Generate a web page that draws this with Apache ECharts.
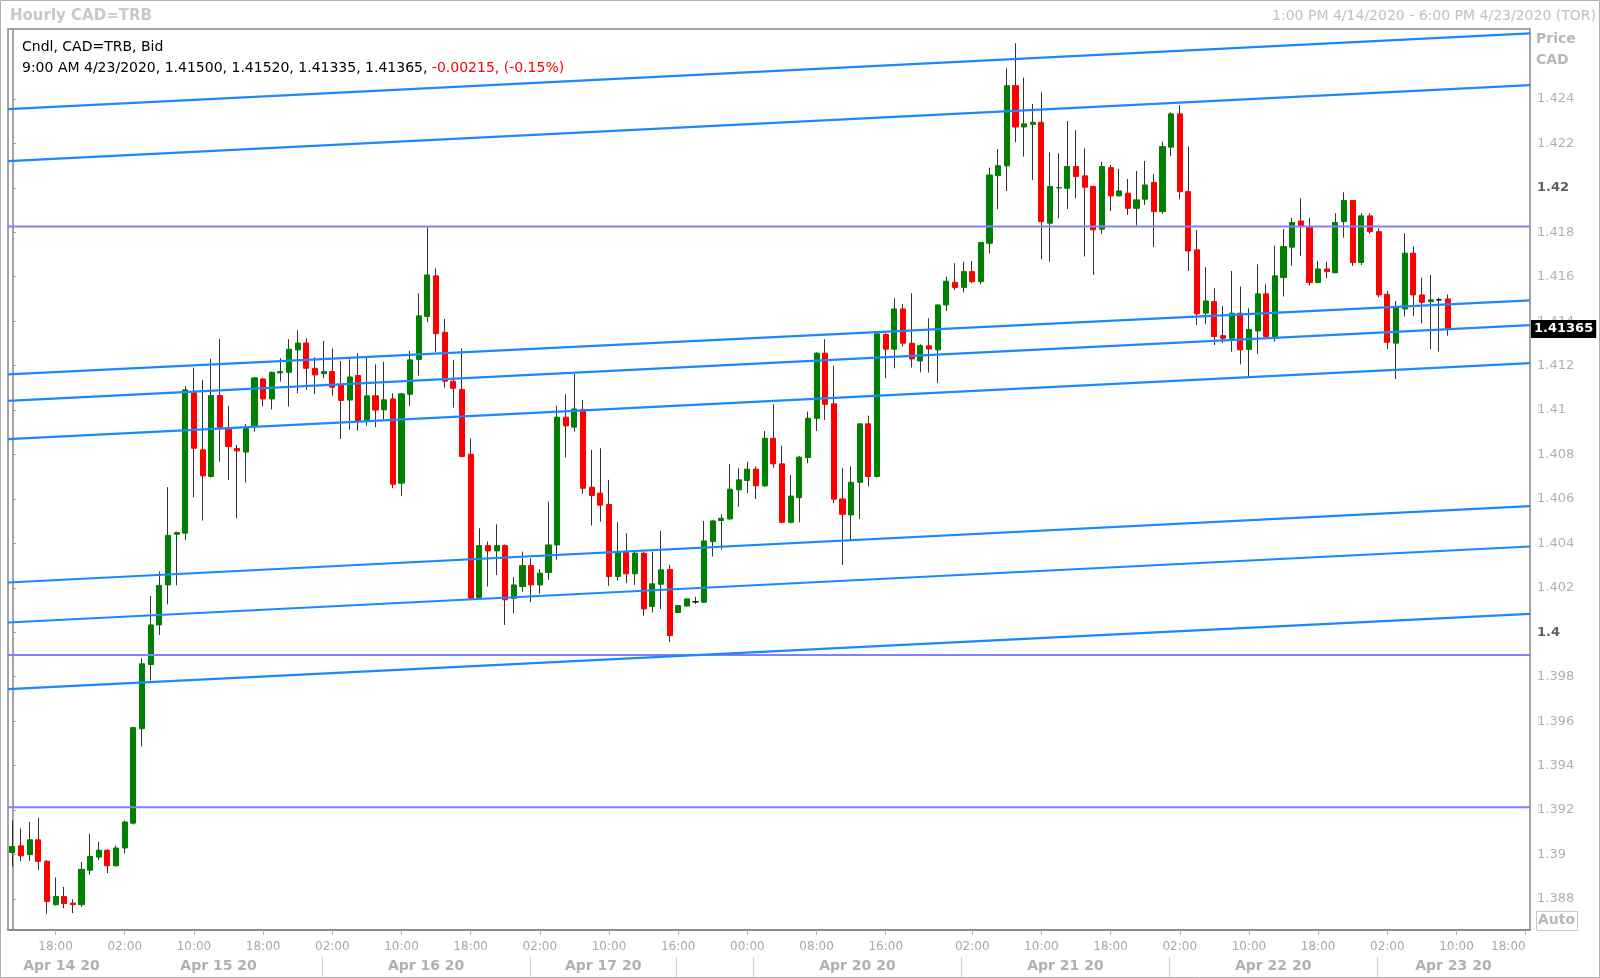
<!DOCTYPE html>
<html><head><meta charset="utf-8">
<script src="https://cdn.jsdelivr.net/npm/echarts@6/dist/echarts.min.js"></script>
<style>html,body{margin:0;padding:0;background:#fff}#c{width:1600px;height:978px}</style>
</head><body><div id="c"></div>
<script>
// ---- data ----
const open = [1.39009,1.39039,1.38999,1.39066,1.38969,1.38774,1.38811,1.38781,1.38774,1.38929,
1.38988,1.39019,1.38949,1.39029,1.39141,1.39566,1.39855,1.40033,1.40213,1.40441,
1.40446,1.41078,1.40821,1.40701,1.41065,1.40915,1.40827,1.40811,1.40929,1.41140,
1.41050,1.41167,1.41170,1.41271,1.41302,1.41188,1.41164,1.41173,1.41113,1.41045,
1.41156,1.40956,1.41064,1.41001,1.41050,1.40671,1.41071,1.41228,1.41421,1.41604,
1.41350,1.41130,1.41093,1.40801,1.40156,1.40390,1.40366,1.40390,1.40153,1.40206,
1.40300,1.40213,1.40269,1.40393,1.40968,1.40923,1.41003,1.40653,1.40626,1.40575,
1.40251,1.40359,1.40263,1.40356,1.40116,1.40216,1.40283,1.40089,1.40118,1.40137,
1.40135,1.40408,1.40503,1.40510,1.40641,1.40683,1.40734,1.40659,1.40873,1.40758,
1.40495,1.40606,1.40786,1.40963,1.41256,1.41028,1.40600,1.40528,1.40675,1.40938,
1.40701,1.41341,1.41274,1.41455,1.41301,1.41221,1.41289,1.41271,1.41473,1.41575,
1.41552,1.41623,1.41578,1.41751,1.42055,1.42099,1.42460,1.42274,1.42286,1.42295,
1.41841,1.42000,1.41998,1.42096,1.42054,1.42006,1.41814,1.42091,1.41964,1.41976,
1.41908,1.41949,1.42024,1.41893,1.42183,1.42333,1.41983,1.41721,1.41436,1.41488,
1.41335,1.41323,1.41436,1.41273,1.41356,1.41523,1.41331,1.41596,1.41733,1.41851,
1.41823,1.41574,1.41635,1.41618,1.41848,1.41943,1.41664,1.41874,1.41803,1.41521,
1.41301,1.41455,1.41706,1.41518,1.41488,1.41496,1.41500];
const close = [1.39036,1.38994,1.39066,1.38969,1.38788,1.38811,1.38779,1.38774,1.38933,1.38991,
1.39019,1.38949,1.39029,1.39146,1.39571,1.39858,1.40033,1.40211,1.40436,1.40449,
1.41091,1.40828,1.40704,1.41065,1.40921,1.40836,1.40816,1.40917,1.41145,1.41050,
1.41170,1.41173,1.41274,1.41302,1.41188,1.41158,1.41173,1.41103,1.41043,1.41149,
1.40951,1.41064,1.41000,1.41046,1.40666,1.41073,1.41226,1.41424,1.41608,1.41344,
1.41130,1.41098,1.40791,1.40153,1.40390,1.40366,1.40390,1.40146,1.40213,1.40300,
1.40213,1.40266,1.40393,1.40968,1.40929,1.41005,1.40648,1.40615,1.40572,1.40251,
1.40359,1.40263,1.40356,1.40105,1.40218,1.40281,1.39985,1.40120,1.40150,1.40137,
1.40411,1.40501,1.40513,1.40644,1.40686,1.40734,1.40659,1.40873,1.40758,1.40495,
1.40613,1.40788,1.40963,1.41256,1.41026,1.40599,1.40531,1.40675,1.40938,1.40701,
1.41343,1.41274,1.41455,1.41301,1.41230,1.41290,1.41275,1.41473,1.41580,1.41552,
1.41623,1.41578,1.41754,1.42058,1.42100,1.42460,1.42274,1.42288,1.42295,1.41848,
1.42006,1.42001,1.42096,1.42051,1.42003,1.41811,1.42096,1.41964,1.41986,1.41908,
1.41946,1.42013,1.41893,1.42186,1.42333,1.41983,1.41716,1.41433,1.41491,1.41331,
1.41323,1.41436,1.41271,1.41363,1.41523,1.41331,1.41604,1.41736,1.41844,1.41830,
1.41574,1.41635,1.41623,1.41844,1.41943,1.41664,1.41874,1.41803,1.41518,1.41305,
1.41461,1.41706,1.41518,1.41485,1.41496,1.41496,1.41365];
const high = [1.39153,1.39116,1.39146,1.39166,1.38975,1.38896,1.38854,1.38799,1.38966,1.39094,
1.39058,1.39022,1.39041,1.39153,1.39574,1.39883,1.40163,1.40274,1.40653,1.40453,
1.41108,1.41191,1.41136,1.41230,1.41320,1.41019,1.40843,1.40938,1.41148,1.41145,
1.41173,1.41233,1.41319,1.41359,1.41323,1.41238,1.41311,1.41277,1.41221,1.41229,
1.41256,1.41238,1.41206,1.41218,1.41076,1.41078,1.41266,1.41526,1.41823,1.41638,
1.41410,1.41226,1.41278,1.40873,1.40468,1.40408,1.40486,1.40395,1.40248,1.40363,
1.40333,1.40284,1.40588,1.41020,1.41071,1.41163,1.41046,1.40821,1.40828,1.40686,
1.40495,1.40446,1.40363,1.40363,1.40363,1.40456,1.40303,1.40122,1.40152,1.40160,
1.40501,1.40505,1.40531,1.40758,1.40738,1.40768,1.40746,1.40906,1.41026,1.40840,
1.40708,1.40794,1.40993,1.41260,1.41319,1.41200,1.40738,1.40746,1.40940,1.40975,
1.41346,1.41345,1.41503,1.41478,1.41526,1.41296,1.41413,1.41476,1.41600,1.41661,
1.41668,1.41671,1.41756,1.42091,1.42175,1.42538,1.42651,1.42496,1.42378,1.42430,
1.42160,1.42156,1.42301,1.42259,1.42178,1.42010,1.42118,1.42103,1.42085,1.42040,
1.42076,1.42121,1.42063,1.42208,1.42340,1.42373,1.42186,1.41811,1.41643,1.41548,
1.41469,1.41626,1.41556,1.41458,1.41656,1.41566,1.41740,1.41815,1.41866,1.41953,
1.41866,1.41671,1.41668,1.41886,1.41980,1.41946,1.41886,1.41886,1.41818,1.41536,
1.41491,1.41796,1.41736,1.41596,1.41608,1.41506,1.41520];
const low = [1.38946,1.38971,1.38971,1.38929,1.38733,1.38770,1.38758,1.38736,1.38763,1.38908,
1.38974,1.38916,1.38946,1.39004,1.39135,1.39486,1.39783,1.39988,1.40126,1.40211,
1.40416,1.40608,1.40503,1.40696,1.40768,1.40686,1.40513,1.40674,1.40903,1.41016,
1.41003,1.41128,1.41016,1.41076,1.41091,1.41073,1.41143,1.41065,1.40870,1.40913,
1.40907,1.40930,1.40923,1.40956,1.40648,1.40614,1.41019,1.41155,1.41395,1.41263,
1.41101,1.41011,1.40788,1.40150,1.40150,1.40206,1.40258,1.40033,1.40086,1.40183,
1.40135,1.40173,1.40236,1.40326,1.40787,1.40903,1.40623,1.40480,1.40498,1.40209,
1.40233,1.40221,1.40213,1.40075,1.40089,1.40105,1.39955,1.40087,1.40116,1.40128,
1.40132,1.40341,1.40373,1.40506,1.40565,1.40626,1.40599,1.40655,1.40741,1.40491,
1.40490,1.40495,1.40761,1.40906,1.40956,1.40581,1.40303,1.40416,1.40509,1.40656,
1.40696,1.41143,1.41188,1.41286,1.41191,1.41170,1.41169,1.41121,1.41446,1.41540,
1.41530,1.41571,1.41566,1.41706,1.41905,1.41986,1.42205,1.42141,1.42036,1.41679,
1.41668,1.41863,1.41905,1.41953,1.41691,1.41608,1.41793,1.41896,1.41960,1.41878,
1.41830,1.41923,1.41733,1.41883,1.42144,1.41949,1.41626,1.41383,1.41388,1.41293,
1.41301,1.41263,1.41206,1.41146,1.41253,1.41323,1.41308,1.41511,1.41650,1.41695,
1.41560,1.41571,1.41593,1.41616,1.41776,1.41649,1.41653,1.41793,1.41508,1.41275,
1.41139,1.41421,1.41423,1.41391,1.41274,1.41263,1.41335];

// trading sessions (hourly bars) that make up the category axis
const sessions = [[Date.UTC(2020,3,14,13), Date.UTC(2020,3,17,17)], [Date.UTC(2020,3,19,16), Date.UTC(2020,3,23,18)]];
const hourTicks = ['04/14 18:00','04/15 02:00','04/15 10:00','04/15 18:00','04/16 02:00','04/16 10:00','04/16 18:00',
  '04/17 02:00','04/17 10:00','04/19 16:00','04/20 00:00','04/20 08:00','04/20 16:00','04/21 02:00','04/21 10:00',
  '04/21 18:00','04/22 02:00','04/22 10:00','04/22 18:00','04/23 02:00','04/23 10:00','04/23 18:00'];
const dayLabels = ['Apr 14 20','Apr 15 20','Apr 16 20','Apr 17 20','Apr 20 20','Apr 21 20','Apr 22 20','Apr 23 20'];
const yTicks = [1.388,1.390,1.392,1.394,1.396,1.398,1.400,1.402,1.404,1.406,1.408,1.410,1.412,1.414,1.416,1.418,1.420,1.422,1.424];
const yMajor = [1.400, 1.420];
const prevClose = 1.41580;
// drawn studies: sloped trend lines (value at left edge, value at right edge) and horizontal levels
const trendLeft  = [1.42354,1.42120,1.41161,1.41041,1.40869,1.40224,1.40044,1.39744];
const trendRight = [1.42695,1.42462,1.41494,1.41382,1.41211,1.40568,1.40386,1.40083];
const hLevels = [1.41826,1.39898,1.39213];

// ---- layout constants ----
const dayRanges = [[-0.5,11.85],[11.85,35.85],[35.85,59.85],[59.85,76.8],[85.7,109.75],[109.75,133.8],[133.8,157.8],[157.8,175.5]];
const daySeparators = [35.85,59.85,76.8,85.7,109.75,133.8,157.8];

const pad = n => (n < 10 ? '0' : '') + n;
const categories = [];
sessions.forEach(([a, b]) => {
  for (let t = a; t <= b; t += 3600000) {
    const d = new Date(t);
    categories.push(pad(d.getUTCMonth() + 1) + '/' + pad(d.getUTCDate()) + ' ' + pad(d.getUTCHours()) + ':00');
  }
});
const xMin = -0.5, xMax = categories.length - 0.5;
const dayCenters = dayRanges.map(r => (r[0] + r[1]) / 2);
const dayMap = {};
dayCenters.forEach((c, i) => { dayMap[c.toFixed(3)] = dayLabels[i]; });
const tickSet = new Set(hourTicks);
const last = close.length - 1;

const wickData = open.map((o, i) => [o, close[i], low[i], high[i]]);
const bodyData = open.map((o, i) => [o, close[i], Math.min(o, close[i]), Math.max(o, close[i])]);

const series = [
  { type: 'candlestick', xAxisIndex: 0, yAxisIndex: 0, data: wickData, barWidth: 1, z: 2,
    itemStyle: { color: '#333', color0: '#333', borderColor: '#333', borderColor0: '#333', borderColorDoji: '#333', borderWidth: 1 } },
  { type: 'candlestick', xAxisIndex: 0, yAxisIndex: 0, data: bodyData, barWidth: 5.6, z: 3,
    itemStyle: { color: '#008000', color0: '#ff0000', borderColor: '#008000', borderColor0: '#ff0000', borderColorDoji: '#000', borderWidth: 1 } }
];
hLevels.forEach(v => series.push({ type: 'line', xAxisIndex: 1, yAxisIndex: 0, data: [[xMin, v], [xMax, v]],
  symbol: 'none', z: 4, silent: true, lineStyle: { color: '#8080ff', width: 2 } }));
trendLeft.forEach((v, i) => series.push({ type: 'line', xAxisIndex: 1, yAxisIndex: 0, data: [[xMin, v], [xMax, trendRight[i]]],
  symbol: 'none', z: 5, silent: true, lineStyle: { color: '#1a88ff', width: 2.2 } }));
// last price tag on the price scale
series.push({ type: 'line', xAxisIndex: 1, yAxisIndex: 0, data: [[xMax, close[last]]], symbol: 'none', z: 20, silent: true,
  lineStyle: { width: 0 },
  markLine: { silent: true, symbol: ['none', 'none'], animation: false, precision: 5,
    lineStyle: { color: 'rgba(0,0,0,0)', width: 0 },
    label: { show: true, position: 'end', distance: 1, formatter: close[last].toFixed(5),
      backgroundColor: '#000', color: '#fff', fontWeight: 'bold', fontSize: 13, fontFamily: 'DejaVu Sans', padding: [3, 3, 2, 3] },
    data: [{ yAxis: close[last] }] } });

const chart = echarts.init(document.getElementById('c'), null, { renderer: 'canvas' });
chart.setOption({
  animation: false,
  backgroundColor: '#fff',
  textStyle: { fontFamily: 'DejaVu Sans' },
  grid: { left: 8, right: 70, top: 29, bottom: 48, show: true, borderColor: '#858585', borderWidth: 1.5, backgroundColor: '#fff' },
  xAxis: [
    { type: 'category', data: categories, boundaryGap: true, position: 'bottom',
      axisLine: { show: true, lineStyle: { color: '#858585', width: 1.5 } },
      axisTick: { show: true, alignWithLabel: true, length: 5, interval: (i, v) => tickSet.has(v), lineStyle: { color: '#b0b0b0' } },
      axisLabel: { interval: (i, v) => tickSet.has(v), formatter: v => v.slice(6), color: '#a8a8a8', fontSize: 12,
        fontFamily: 'DejaVu Sans', margin: 11, alignMaxLabel: 'right', hideOverlap: false },
      splitLine: { show: false } },
    { type: 'value', min: xMin, max: xMax, position: 'bottom', offset: 27,
      axisLine: { show: false },
      axisTick: { show: true, customValues: daySeparators, length: 20, lineStyle: { color: '#d0d0d0' } },
      axisLabel: { customValues: dayCenters, formatter: v => dayMap[v.toFixed(3)] || '', color: '#b0b0b0', fontSize: 14,
        fontWeight: 'bold', fontFamily: 'DejaVu Sans', margin: 2 },
      splitLine: { show: false } }
  ],
  yAxis: [{ type: 'value', position: 'right', min: 1.3866, max: 1.42715, scale: true,
    axisLine: { show: true, lineStyle: { color: '#858585', width: 1.5 } },
    axisTick: { show: true, customValues: yTicks, length: 4, lineStyle: { color: '#a0a0a0' } },
    axisLabel: { customValues: yTicks, margin: 7, fontSize: 13, fontFamily: 'DejaVu Sans', color: '#b0b0b0',
      formatter: v => { const s = String(Number(v.toFixed(3))); return yMajor.some(m => Math.abs(m - v) < 1e-7) ? '{b|' + s + '}' : s; },
      rich: { b: { fontWeight: 'bold', color: '#606060', fontSize: 13, fontFamily: 'DejaVu Sans' } } },
    splitLine: { show: false } }],
  series: series,
  graphic: [
    { type: 'rect', shape: { x: 0.5, y: 0.5, width: 1599, height: 977 }, style: { fill: 'none', stroke: '#b0b0b0', lineWidth: 1 }, z: 100 },
    { type: 'text', left: 10, top: 9, style: { text: 'Hourly CAD=TRB', font: 'bold 15px "DejaVu Sans"', fill: '#c8c8c8' } },
    { type: 'text', right: 4, top: 9, style: { text: '1:00 PM 4/14/2020 - 6:00 PM 4/23/2020 (TOR)', font: '14px "DejaVu Sans"', fill: '#c0c0c0' } },
    { type: 'text', left: 22, top: 40, z: 50, style: { text: 'Cndl, CAD=TRB, Bid', font: '14px "DejaVu Sans"', fill: '#000' } },
    { type: 'text', left: 22, top: 61, z: 50, style: {
      text: '{k|9:00 AM 4/23/2020, ' + [open[last], high[last], low[last], close[last]].map(v => v.toFixed(5)).join(', ') + ', }{r|' +
        (close[last] - prevClose).toFixed(5) + ', (' + ((close[last] - prevClose) / prevClose * 100).toFixed(2) + '%)}',
      rich: { k: { font: '14px "DejaVu Sans"', fill: '#000' }, r: { font: '14px "DejaVu Sans"', fill: '#ff0000' } } } },
    { type: 'text', left: 1536, top: 32, style: { text: 'Price', font: 'bold 14px "DejaVu Sans"', fill: '#b8b8b8' } },
    { type: 'text', left: 1536, top: 53, style: { text: 'CAD', font: 'bold 14px "DejaVu Sans"', fill: '#b8b8b8' } },
    { type: 'rect', shape: { x: 1536.5, y: 911.5, width: 41, height: 19 }, style: { fill: '#fff', stroke: '#c8c8c8', lineWidth: 1 } },
    { type: 'text', left: 1538, top: 913, style: { text: 'Auto', font: 'bold 14px "DejaVu Sans"', fill: '#b8b8b8' } }
  ]
});
</script></body></html>
